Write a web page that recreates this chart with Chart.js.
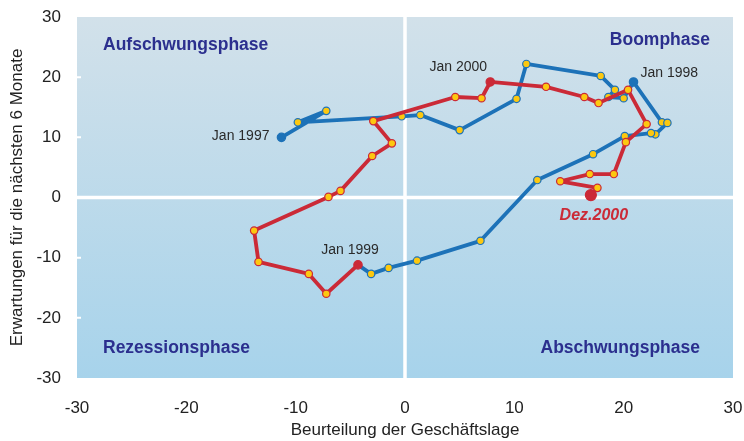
<!DOCTYPE html>
<html><head><meta charset="utf-8">
<script src="https://cdn.jsdelivr.net/npm/chart.js@4.4.1/dist/chart.umd.min.js"></script>
<style>html,body{margin:0;padding:0;background:#fff}#wrap{width:744px;height:441px;position:relative}</style>
</head><body><div id="wrap"><canvas id="c"></canvas></div>
<script>
// Series 1997-1998 (blue): x = Beurteilung der Geschäftslage, y = Erwartungen
const blueX = [-11.3, -7.2, -9.8, -0.3, 1.4, 5.0, 10.2, 11.1, 17.9, 19.2, 18.6, 20.0,
               20.9, 23.5, 24.0, 22.9, 22.5, 20.1, 17.2, 12.1, 6.9, 1.1, -1.5, -3.1];
const blueY = [10.0, 14.4, 12.5, 13.5, 13.7, 11.2, 16.4, 22.2, 20.2, 17.9, 16.7, 16.5,
               19.2, 12.5, 12.4, 10.5, 10.7, 10.2, 7.2, 2.9, -7.2, -10.5, -11.7, -12.7];
// Series 1999-2000 (red)
const redX = [-4.3, -7.2, -8.8, -13.4, -13.8, -7.0, -5.9, -3.0, -1.2, -2.9, 4.6, 7.0,
              7.8, 12.9, 16.4, 17.7, 20.4, 22.1, 20.2, 19.1, 16.9, 14.2, 17.6, 17.0];
const redY = [-11.2, -16.0, -12.7, -10.7, -5.5, 0.1, 1.1, 6.9, 9.0, 12.7, 16.7, 16.5,
              19.2, 18.4, 16.7, 15.7, 17.9, 12.2, 9.2, 3.9, 3.9, 2.7, 1.6, 0.4];
const xTicks = [-30, -20, -10, 0, 10, 20, 30];
const yTicks = [-30, -20, -10, 0, 10, 20, 30];
const quadrantLabels = ["Aufschwungsphase", "Boomphase", "Rezessionsphase", "Abschwungsphase"];
const pointLabels = [
  {text: "Jan 1997", series: "blue", index: 0},
  {text: "Jan 1998", series: "blue", index: 12},
  {text: "Jan 1999", series: "red", index: 0},
  {text: "Jan 2000", series: "red", index: 12},
  {text: "Dez.2000", series: "red", index: 23}
];

const BLUE = '#1d72b8', RED = '#cb2a37', YELLOW = '#fdc80f', NAVY = '#2b2f8e';
const FONT = '"Liberation Sans", Arial, Helvetica, sans-serif';

const bluePts = blueX.map((x, i) => ({x, y: blueY[i]}));
bluePts.push({x: redX[0], y: redY[0]}); // connect to Jan 1999
const redPts = redX.map((x, i) => ({x, y: redY[i]}));

const bluePointStart = new Set([0, 12]);
const redPointStart = new Set([0, 12]);

const bgPlugin = {
  id: 'bg',
  beforeDatasetsDraw(chart) {
    const {ctx, chartArea: a, scales: {x, y}} = chart;
    ctx.save();
    const g = ctx.createLinearGradient(0, a.top, 0, a.bottom);
    g.addColorStop(0, '#d2e1ea');
    g.addColorStop(1, '#a7d3eb');
    ctx.fillStyle = g;
    ctx.fillRect(a.left, a.top, a.right - a.left, a.bottom - a.top);
    ctx.strokeStyle = '#ffffff';
    ctx.lineWidth = 3.5;
    const x0 = x.getPixelForValue(0), y0 = y.getPixelForValue(0);
    ctx.beginPath();
    ctx.moveTo(x0, a.top); ctx.lineTo(x0, a.bottom);
    ctx.moveTo(a.left, y0); ctx.lineTo(a.right, y0);
    ctx.stroke();
    ctx.lineWidth = 2;
    ctx.beginPath();
    yTicks.forEach(v => {
      if (v === 0 || v === 30 || v === -30) return;
      const py = y.getPixelForValue(v);
      ctx.moveTo(a.left, py); ctx.lineTo(a.left + 4, py);
    });
    ctx.stroke();
    ctx.restore();
  },
  afterDatasetsDraw(chart) {
    const {ctx, chartArea: a} = chart;
    ctx.save();
    ctx.fillStyle = NAVY;
    ctx.font = 'bold 17.5px ' + FONT;
    ctx.textBaseline = 'middle';
    ctx.textAlign = 'left';
    ctx.fillText(quadrantLabels[0], a.left + 26, a.top + 28);
    ctx.fillText(quadrantLabels[2], a.left + 26, a.bottom - 30);
    ctx.textAlign = 'right';
    ctx.fillText(quadrantLabels[1], a.right - 23, a.top + 23);
    ctx.fillText(quadrantLabels[3], a.right - 33, a.bottom - 30);
    const metas = {blue: chart.getDatasetMeta(1), red: chart.getDatasetMeta(0)};
    const offs = [
      {dx: -12, dy: -1, align: 'right'},
      {dx: 7, dy: -9, align: 'left'},
      {dx: -8, dy: -15, align: 'center'},
      {dx: -32, dy: -15, align: 'center'},
      {dx: 3, dy: 21, align: 'center'}
    ];
    pointLabels.forEach((pl, k) => {
      const el = metas[pl.series].data[pl.index];
      const o = offs[k];
      if (k === 4) { ctx.font = 'italic bold 16px ' + FONT; ctx.fillStyle = RED; }
      else { ctx.font = '14px ' + FONT; ctx.fillStyle = '#2a2a2a'; }
      ctx.textAlign = o.align;
      ctx.fillText(pl.text, el.x + o.dx, el.y + o.dy);
    });
    ctx.restore();
  }
};

new Chart(document.getElementById('c'), {
  type: 'scatter',
  data: {
    datasets: [
      {
        label: '1999-2000',
        data: redPts,
        showLine: true,
        borderColor: RED,
        borderWidth: 3.8,
        borderJoinStyle: 'round',
        borderCapStyle: 'round',
        pointRadius: c => c.dataIndex === redPts.length - 1 ? 5.5 : (redPointStart.has(c.dataIndex) ? 4.2 : 3.7),
        pointBackgroundColor: c => (c.dataIndex === redPts.length - 1 || redPointStart.has(c.dataIndex)) ? RED : YELLOW,
        pointBorderColor: RED,
        pointBorderWidth: 1.2,
        order: 0
      },
      {
        label: '1997-1998',
        data: bluePts,
        showLine: true,
        borderColor: BLUE,
        borderWidth: 3.8,
        borderJoinStyle: 'round',
        borderCapStyle: 'round',
        pointRadius: c => c.dataIndex === bluePts.length - 1 ? 0 : (bluePointStart.has(c.dataIndex) ? 4.2 : 3.7),
        pointBackgroundColor: c => bluePointStart.has(c.dataIndex) ? BLUE : YELLOW,
        pointBorderColor: BLUE,
        pointBorderWidth: 1.2,
        order: 1
      }
    ]
  },
  options: {
    responsive: true,
    maintainAspectRatio: false,
    animation: false,
    layout: {padding: {top: 17, right: 11, left: 0, bottom: 0}},
    plugins: {legend: {display: false}, tooltip: {enabled: false}},
    scales: {
      x: {
        type: 'linear', min: -30, max: 30,
        afterBuildTicks: s => { s.ticks = xTicks.map(v => ({value: v})); },
        afterFit: s => { s.height = 63; s.paddingLeft = 0; s.paddingRight = 0; },
        grid: {display: false, drawTicks: false},
        border: {display: false},
        ticks: {color: '#222', padding: 20, font: {size: 17, family: FONT}},
        title: {display: true, text: 'Beurteilung der Geschäftslage', color: '#222',
                font: {size: 17, family: FONT}, padding: {top: 0, bottom: 0}}
      },
      y: {
        type: 'linear', min: -30, max: 30,
        afterBuildTicks: s => { s.ticks = yTicks.map(v => ({value: v})); },
        afterFit: s => { s.width = 77; s.paddingTop = 0; s.paddingBottom = 0; },
        grid: {display: false, drawTicks: false},
        border: {display: false},
        ticks: {color: '#222', padding: 16, font: {size: 17, family: FONT}},
        title: {display: true, text: 'Erwartungen für die nächsten 6 Monate', color: '#222',
                font: {size: 17, family: FONT}, padding: {top: 7, bottom: 0}}
      }
    }
  },
  plugins: [bgPlugin]
});
</script>
</body></html>
